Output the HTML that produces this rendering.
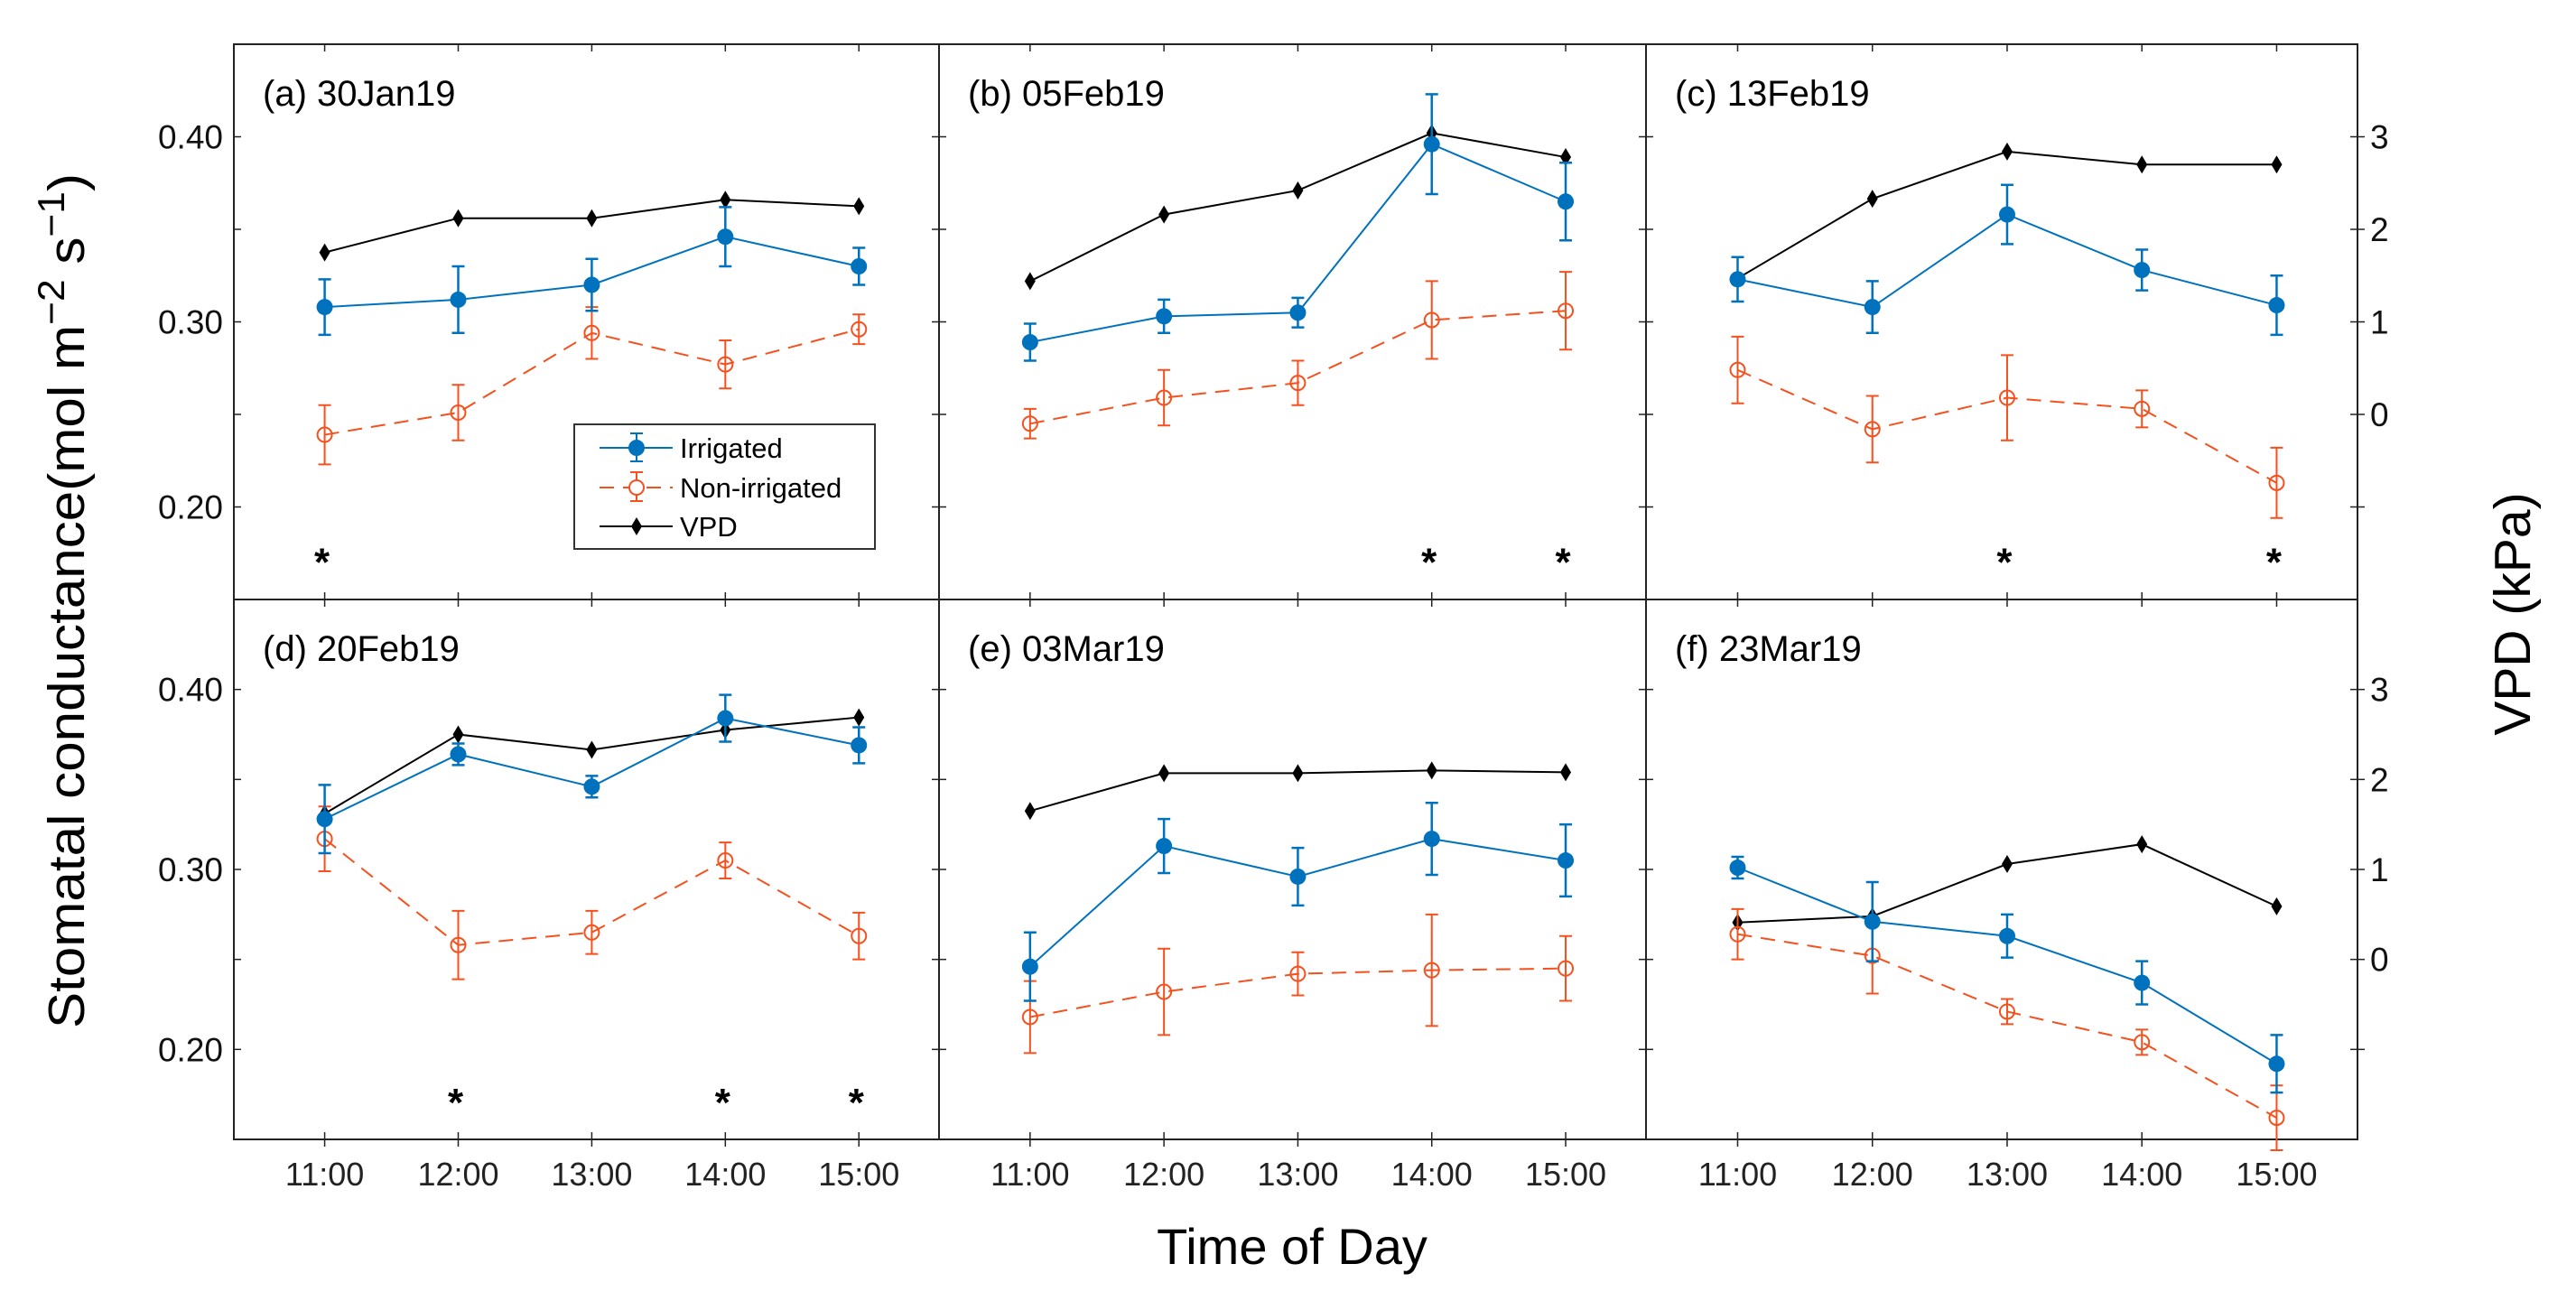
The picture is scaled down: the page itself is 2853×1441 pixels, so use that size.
<!DOCTYPE html>
<html><head><meta charset="utf-8">
<style>
html,body{margin:0;padding:0;background:#fff;}
svg{display:block;font-family:"Liberation Sans",Arial,sans-serif;}
</style></head>
<body>
<svg id="chart" width="2853" height="1441" viewBox="0 0 2853 1441" xmlns="http://www.w3.org/2000/svg">
<rect x="0" y="0" width="2853" height="1441" fill="#fff"/>
<text transform="translate(93,1139) rotate(-90)" font-size="57" fill="#000" textLength="947" lengthAdjust="spacingAndGlyphs">Stomatal conductance(mol m<tspan dy="-22" font-size="42">−2</tspan><tspan dy="22"> s</tspan><tspan dy="-22" font-size="42">−1</tspan><tspan dy="22">)</tspan></text>
<text transform="translate(2802,680) rotate(-90)" font-size="57" fill="#000" text-anchor="middle">VPD (kPa)</text>
<text x="1431" y="1400" font-size="56" fill="#000" text-anchor="middle">Time of Day</text>
<g id="panels"></g>
</svg>
<script>
const hours = [11, 12, 13, 14, 15];
const tickLabels = ["11:00", "12:00", "13:00", "14:00", "15:00"];
const yTickValues = [0.20, 0.25, 0.30, 0.35, 0.40];
const yTickLabels = ["0.20", "", "0.30", "", "0.40"];
const vpdTickValues = [-1, 0, 1, 2, 3];
const vpdTickLabels = ["", "0", "1", "2", "3"];
const panelTitles = ["(a) 30Jan19", "(b) 05Feb19", "(c) 13Feb19", "(d) 20Feb19", "(e) 03Mar19", "(f) 23Mar19"];

const irrA = [0.308, 0.312, 0.320, 0.346, 0.330];
const irrErrA = [0.015, 0.018, 0.014, 0.016, 0.010];
const nonA = [0.239, 0.251, 0.294, 0.277, 0.296];
const nonErrA = [0.016, 0.015, 0.014, 0.013, 0.008];
const vpdA = [1.75, 2.12, 2.12, 2.32, 2.25];
const starsA = [11];

const irrB = [0.289, 0.303, 0.305, 0.396, 0.365];
const irrErrB = [0.010, 0.009, 0.008, 0.027, 0.021];
const nonB = [0.245, 0.259, 0.267, 0.301, 0.306];
const nonErrB = [0.008, 0.015, 0.012, 0.021, 0.021];
const vpdB = [1.44, 2.16, 2.42, 3.04, 2.78];
const starsB = [14, 15];

const irrC = [0.323, 0.308, 0.358, 0.328, 0.309];
const irrErrC = [0.012, 0.014, 0.016, 0.011, 0.016];
const nonC = [0.274, 0.242, 0.259, 0.253, 0.213];
const nonErrC = [0.018, 0.018, 0.023, 0.010, 0.019];
const vpdC = [1.47, 2.33, 2.84, 2.70, 2.70];
const starsC = [13, 15];

const irrD = [0.328, 0.364, 0.346, 0.384, 0.369];
const irrErrD = [0.019, 0.006, 0.006, 0.013, 0.010];
const nonD = [0.317, 0.258, 0.265, 0.305, 0.263];
const nonErrD = [0.018, 0.019, 0.012, 0.010, 0.013];
const vpdD = [1.62, 2.50, 2.33, 2.55, 2.69];
const starsD = [12, 14, 15];

const irrE = [0.246, 0.313, 0.296, 0.317, 0.305];
const irrErrE = [0.019, 0.015, 0.016, 0.020, 0.020];
const nonE = [0.218, 0.232, 0.242, 0.244, 0.245];
const nonErrE = [0.020, 0.024, 0.012, 0.031, 0.018];
const vpdE = [1.65, 2.07, 2.07, 2.10, 2.08];
const starsE = [];

const irrF = [0.301, 0.271, 0.263, 0.237, 0.192];
const irrErrF = [0.006, 0.022, 0.012, 0.012, 0.016];
const nonF = [0.264, 0.252, 0.221, 0.204, 0.162];
const nonErrF = [0.014, 0.021, 0.007, 0.007, 0.018];
const vpdF = [0.41, 0.48, 1.06, 1.28, 0.59];
const starsF = [];

const NS = "http://www.w3.org/2000/svg";
const root = document.getElementById("panels");
function mk(tag, attrs, parent) {
  const e = document.createElementNS(NS, tag);
  for (const k in attrs) e.setAttribute(k, attrs[k]);
  (parent || root).appendChild(e);
  return e;
}
const BLUE = "#0072BD", ORANGE = "#F4511E";
const rows = [{top: 49, bottom: 664}, {top: 664, bottom: 1262}];
const cols = [{left: 259, right: 1040}, {left: 1040, right: 1823}, {left: 1823, right: 2611}];
const datasets = [
  [irrA, irrErrA, nonA, nonErrA, vpdA, starsA],
  [irrB, irrErrB, nonB, nonErrB, vpdB, starsB],
  [irrC, irrErrC, nonC, nonErrC, vpdC, starsC],
  [irrD, irrErrD, nonD, nonErrD, vpdD, starsD],
  [irrE, irrErrE, nonE, nonErrE, vpdE, starsE],
  [irrF, irrErrF, nonF, nonErrF, vpdF, starsF]
];
const XMIN = 10.32, XMAX = 15.6, YMIN = 0.15, YMAX = 0.45;

for (let p = 0; p < 6; p++) {
  const r = rows[Math.floor(p / 3)], c = cols[p % 3];
  const g = mk("g", {});
  
  
  const xs = h => c.left + (h - XMIN) / (XMAX - XMIN) * (c.right - c.left);
  const ys = v => r.bottom - (v - YMIN) / (YMAX - YMIN) * (r.bottom - r.top);
  const vs = v => ys(0.25 + 0.05 * v);
  const [irr, irrE, non, nonE, vpd, stars] = datasets[p];

  const frame = mk("rect", {x: c.left, y: r.top, width: c.right - c.left, height: r.bottom - r.top, fill: "none", stroke: "#222", "stroke-width": 2}, g);
  
  

  // y ticks left
  yTickValues.forEach((v, i) => {
    const y = ys(v);
    mk("line", {x1: c.left, x2: c.left + 8, y1: y, y2: y, stroke: "#222", "stroke-width": 1.5}, g);
    if (p % 3 === 0 && yTickLabels[i]) {
      const t = mk("text", {x: c.left - 12, y: y + 13, "font-size": 37, fill: "#111", "text-anchor": "end"}, g);
      t.textContent = yTickLabels[i];
      
      
    }
  });
  // right ticks (VPD)
  vpdTickValues.forEach((v, i) => {
    const y = vs(v);
    mk("line", {x1: c.right - 8, x2: c.right, y1: y, y2: y, stroke: "#222", "stroke-width": 1.5}, g);
    if (p % 3 === 2) {
      mk("line", {x1: c.right, x2: c.right + 8, y1: y, y2: y, stroke: "#222", "stroke-width": 1.5}, g);
      if (vpdTickLabels[i]) {
        const t = mk("text", {x: c.right + 14, y: y + 13, "font-size": 37, fill: "#111"}, g);
        t.textContent = vpdTickLabels[i];
        
        
      }
    }
  });
  // x ticks
  hours.forEach((h, i) => {
    const x = xs(h);
    mk("line", {x1: x, x2: x, y1: r.top, y2: r.top + 8, stroke: "#222", "stroke-width": 1.5}, g);
    mk("line", {x1: x, x2: x, y1: r.bottom - 8, y2: r.bottom, stroke: "#222", "stroke-width": 1.5}, g);
    if (p >= 3) {
      mk("line", {x1: x, x2: x, y1: r.bottom, y2: r.bottom + 8, stroke: "#222", "stroke-width": 1.5}, g);
      const t = mk("text", {x: x, y: 1313, "font-size": 36, fill: "#222", "text-anchor": "middle"}, g);
      t.textContent = tickLabels[i];
      
      
    }
  });
  // title
  const tt = mk("text", {x: c.left + 32, y: r.top + 68, "font-size": 40, fill: "#000"}, g);
  tt.textContent = panelTitles[p];
  
  

  // VPD line
  const vl = mk("polyline", {points: hours.map((h, i) => xs(h) + "," + vs(vpd[i])).join(" "), fill: "none", stroke: "#000", "stroke-width": 2}, g);
  
  
  hours.forEach((h, i) => {
    const x = xs(h), y = vs(vpd[i]);
    const d = mk("polygon", {points: `${x},${y-10} ${x+6},${y} ${x},${y+10} ${x-6},${y}`, fill: "#000"}, g);
    
    
  });

  // Non-irrigated
  const nl = mk("polyline", {points: hours.map((h, i) => xs(h) + "," + ys(non[i])).join(" "), fill: "none", stroke: ORANGE, "stroke-width": 2, "stroke-dasharray": "16,10"}, g);
  
  
  hours.forEach((h, i) => {
    const x = xs(h), y1 = ys(non[i] + nonE[i]), y2 = ys(non[i] - nonE[i]);
    const eb = mk("path", {d: `M${x},${y1}V${y2}M${x-7},${y1}H${x+7}M${x-7},${y2}H${x+7}`, stroke: ORANGE, "stroke-width": 2, fill: "none"}, g);
    
    
    const m = mk("circle", {cx: x, cy: ys(non[i]), r: 8, fill: "#fff", "fill-opacity": 0, stroke: ORANGE, "stroke-width": 2}, g);
    
    
  });

  // Irrigated
  const il = mk("polyline", {points: hours.map((h, i) => xs(h) + "," + ys(irr[i])).join(" "), fill: "none", stroke: BLUE, "stroke-width": 2}, g);
  
  
  hours.forEach((h, i) => {
    const x = xs(h), y1 = ys(irr[i] + irrE[i]), y2 = ys(irr[i] - irrE[i]);
    const eb = mk("path", {d: `M${x},${y1}V${y2}M${x-7},${y1}H${x+7}M${x-7},${y2}H${x+7}`, stroke: BLUE, "stroke-width": 2.5, fill: "none"}, g);
    
    
    const m = mk("circle", {cx: x, cy: ys(irr[i]), r: 9, fill: BLUE}, g);
    
    
  });

  // significance stars
  stars.forEach(h => {
    const s = mk("text", {x: xs(h) - 3, y: ys(0.163), "font-size": 44, "font-weight": "bold", fill: "#000", "text-anchor": "middle"}, g);
    s.textContent = "*";
    
    
  });
}

// Legend
const lg = mk("g", {});


mk("rect", {x: 636, y: 470, width: 333, height: 138, fill: "#fff", stroke: "#333", "stroke-width": 2}, lg);
const legendRows = [["Irrigated", 496], ["Non-irrigated", 540], ["VPD", 583]];
// irrigated entry
let e1 = mk("g", {}, lg);


mk("line", {x1: 664, x2: 745, y1: 496, y2: 496, stroke: BLUE, "stroke-width": 2}, e1);
mk("path", {d: "M705,480V511M698,480H712M698,511H712", stroke: BLUE, "stroke-width": 2, fill: "none"}, e1);
mk("circle", {cx: 705, cy: 496, r: 9, fill: BLUE}, e1);
let e2 = mk("g", {}, lg);


mk("line", {x1: 664, x2: 745, y1: 540, y2: 540, stroke: ORANGE, "stroke-width": 2, "stroke-dasharray": "16,10"}, e2);
mk("path", {d: "M705,523V555M698,523H712M698,555H712", stroke: ORANGE, "stroke-width": 2, fill: "none"}, e2);
mk("circle", {cx: 705, cy: 540, r: 8, fill: "#fff", stroke: ORANGE, "stroke-width": 2}, e2);
let e3 = mk("g", {}, lg);


mk("line", {x1: 664, x2: 745, y1: 583, y2: 583, stroke: "#000", "stroke-width": 2}, e3);
mk("polygon", {points: "705,573 711,583 705,593 699,583", fill: "#000"}, e3);
legendRows.forEach(([label, y]) => {
  const t = mk("text", {x: 753, y: y + 11, "font-size": 31, fill: "#000"}, lg);
  t.textContent = label;
  
  
});
</script>
</body></html>
